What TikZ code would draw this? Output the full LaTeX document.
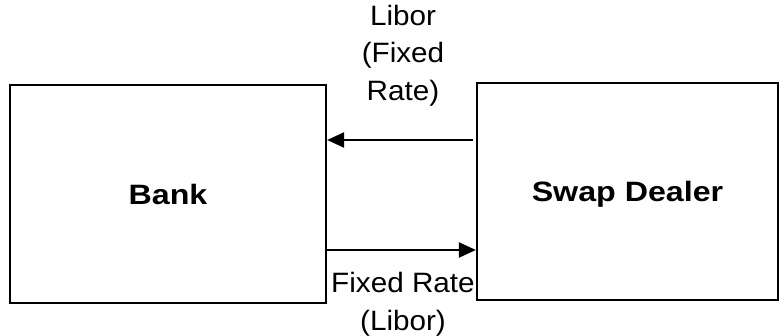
\documentclass[tikz,border=0pt]{standalone}
\usepackage{fontspec}
\setmainfont{Liberation Sans}
\newfontfamily\lblfont[FakeStretch=1.06]{Liberation Sans}
\newfontfamily\boxfont[FakeStretch=1.15]{Liberation Sans Bold}
\usetikzlibrary{arrows.meta}
\begin{document}
\begin{tikzpicture}[x=1pt,y=-1pt,
  party/.style={draw=black, line width=2.2pt, rectangle, inner sep=0pt,
    font=\boxfont\fontsize{28}{34}\selectfont, text height=20pt, text depth=0pt},
  flow/.style={line width=2.2pt, -{Triangle[length=17pt,width=15pt]}},
  lbl/.style={align=center, inner sep=0pt, font=\lblfont\fontsize{28}{37.5}\selectfont}]
\useasboundingbox (0,0) rectangle (779,335);
\node[party, minimum width=316pt, minimum height=218pt] (bank) at (168,194) {Bank};
\node[party, minimum width=301pt, minimum height=217pt] (dealer) at (627.5,191.5) {Swap Dealer};
\coordinate (ytop) at (0,140);
\coordinate (ybot) at (0,250);
\draw[flow] ([xshift=-3pt]dealer.west |- ytop) -- (bank.east |- ytop);
\draw[flow] (bank.east |- ybot) -- (dealer.west |- ybot);
\node[lbl, anchor=base] (toplbl) at (403,100) {Libor\\(Fixed\\Rate)};
\node[lbl, anchor=base] (botlbl) at (403,330) {Fixed Rate\\(Libor)};
\end{tikzpicture}
\end{document}
